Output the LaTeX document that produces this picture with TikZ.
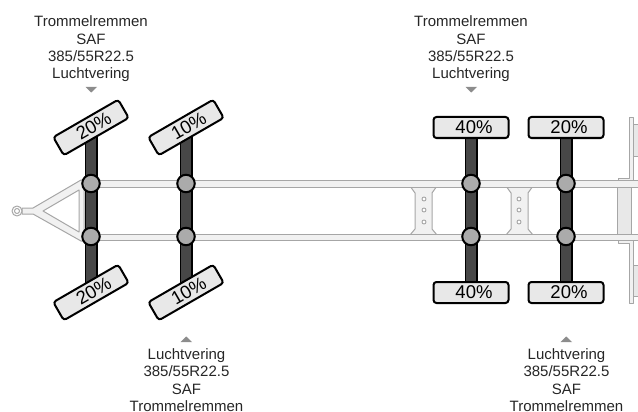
\documentclass[tikz,border=0pt]{standalone}
\usepackage{fontspec}
\setmainfont{Liberation Sans}
\definecolor{framegray}{HTML}{A6A6A6}
\definecolor{framefill}{HTML}{F1F1F1}
\definecolor{axledark}{HTML}{474747}
\definecolor{hubgray}{HTML}{ABABAB}
\definecolor{boxfill}{HTML}{E8E8E8}
\definecolor{markgray}{HTML}{8C8C8C}
\tikzset{
    framepart/.style={draw=framegray, fill=framefill, line width=1pt, line join=round},
    hub/.style={circle, draw=black, fill=hubgray, line width=2pt, minimum size=17.5pt, inner sep=0pt},
    loadbox/.style={draw=black, fill=boxfill, line width=2pt, rounded corners=3pt, minimum width=75pt, minimum height=21pt, inner sep=0pt, font=\fontsize{18.5}{18.5}\selectfont},
    infotext/.style={align=center, inner sep=0pt, text=black!85, font=\fontsize{15}{17.3}\selectfont},
    marker/.style={fill=markgray, draw=none}
}
\newcommand{\loadtext}[1]{\hspace{6pt}\raisebox{-1.5pt}{#1\%}}
\begin{document}
\begin{tikzpicture}[x=1pt,y=-1pt]
    \useasboundingbox (0,0) rectangle (638,412);

    % Drawbar
    \draw[framepart] (22,208) -- (33,208) -- (81,180) -- (84,180) -- (84,241) -- (81,241)
        -- (33,214) -- (22,214) -- cycle;
    \draw[framepart, fill=white] (43,211) -- (79,190) -- (79,232) -- cycle;
    \draw[framepart, fill=white] (17,211) circle (5);
    \draw[framepart, fill=white] (17,211) circle (2.5);

    % Cross members
    \foreach \cx/\hx in {410/424, 506/519} {
        \draw[framepart] (\cx,186) -- (\cx+5,193) -- (\cx+5,229) -- (\cx,235) -- (\cx+27,235)
            -- (\cx+22,229) -- (\cx+22,193) -- (\cx+27,186) -- cycle;
        \foreach \hy in {199,210,222}
            \draw[framegray, line width=0.9pt, fill=white] (\hx,\hy) circle (2);
    }

    % Rear end
    \draw[framepart] (618,181) -- (618,178) -- (629,178) -- (629,118) -- (633,118) -- (633,181) -- cycle;
    \draw[framepart] (618,240) -- (618,243) -- (629,243) -- (629,303) -- (633,303) -- (633,240) -- cycle;
    \draw[framepart, fill=boxfill] (633,125) rectangle (640,156);
    \draw[framepart, fill=boxfill] (633,265) rectangle (640,296);

    % Rails
    \draw[framepart] (82,180.5) rectangle (640,187);
    \draw[framepart] (82,234) rectangle (640,240.5);
    \draw[framepart, fill=boxfill] (617,187) rectangle (631,234);

    % Axles
    \foreach \name/\x/\ang/\load in {a/91/30/20, b/186/30/10, c/471/0/40, d/566/0/20} {
        \coordinate (\name up) at (\x,127.5);
        \coordinate (\name down) at (\x,292.5);
        \draw[black, line width=13pt] (\name up) -- (\name down);
        \draw[axledark, line width=9.5pt] (\name up) -- (\name down);
        \node[hub] (\name hubt) at (\x,183.5) {};
        \node[hub] (\name hubb) at (\x,236.5) {};
        \node[loadbox, rotate=\ang] (\name boxt) at (\name up) {\loadtext{\load}};
        \node[loadbox, rotate=\ang] (\name boxb) at (\name down) {\loadtext{\load}};
    }

    % Labels above
    \foreach \name/\x in {lefttop/91, righttop/471} {
        \node[infotext] (\name) at (\x,49) {Trommelremmen\\SAF\\385/55R22.5\\Luchtvering};
        \fill[marker] (\x-5.5,87) -- (\x+6,87) -- (\x+0.25,92.5) -- cycle;
    }

    % Labels below
    \foreach \name/\x in {leftbot/186, rightbot/566} {
        \node[infotext] (\name) at (\x+0.5,380.2) {Luchtvering\\385/55R22.5\\SAF\\Trommelremmen};
        \fill[marker] (\x-5.5,342) -- (\x+6,342) -- (\x+0.25,336.5) -- cycle;
    }
\end{tikzpicture}
\end{document}
